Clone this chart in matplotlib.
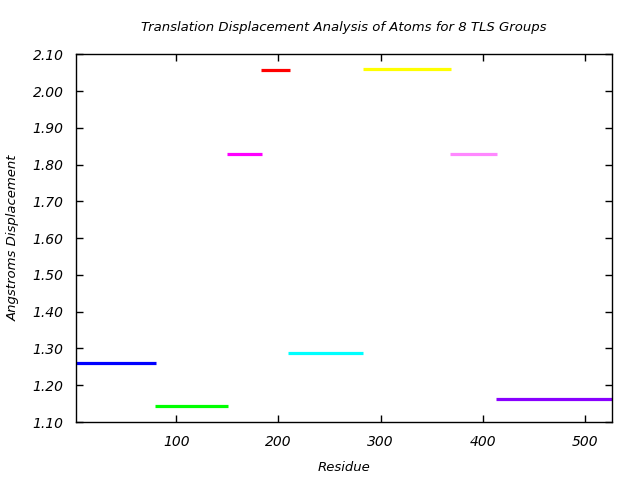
import matplotlib as mpl
mpl.use('Agg')
import matplotlib.pyplot as plt

# TLS groups: residue ranges and translation displacement
starts = [1, 79, 150, 183, 209, 283, 368, 413]
ends = [80, 151, 184, 211, 283, 369, 414, 527]
values = [1.26, 1.143, 1.828, 2.057, 1.287, 2.059, 1.828, 1.162]
colors = ['#0000ff', '#00ff00', '#ff00ff', '#ff0000', '#00ffff', '#ffff00', '#ff88ff', '#8800ff']

y_ticks = [1.10 + 0.10 * i for i in range(11)]
x_ticks = [100, 200, 300, 400, 500]

plt.rcParams['font.family'] = ['DejaVu Sans']
fig = plt.figure(figsize=(6.4, 4.8), dpi=100)
ax = fig.add_axes([0.1188, 0.1208, 0.8372, 0.7661])

for s, e, v, c in zip(starts, ends, values, colors):
    ax.plot([s, e], [v, v], color=c, linewidth=2.3, solid_capstyle='butt')

ax.set_xlim(2, 526)
ax.set_ylim(1.10, 2.10)
ax.set_xticks(x_ticks)
ax.set_yticks(y_ticks)
ax.set_yticklabels(['%.2f' % t for t in y_ticks])
ax.tick_params(direction='in', top=True, right=True, length=5, width=1, labelsize=10, pad=9)
for lbl in ax.get_xticklabels() + ax.get_yticklabels():
    lbl.set_fontstyle('italic')
for sp in ax.spines.values():
    sp.set_linewidth(1)

ax.set_title('Translation Displacement Analysis of Atoms for 8 TLS Groups',
             fontsize=9.5, fontstyle='italic', pad=17)
ax.set_xlabel('Residue', fontsize=9.5, fontstyle='italic', labelpad=9)
ax.set_ylabel('Angstroms Displacement', fontsize=9.5, fontstyle='italic', labelpad=9)

plt.savefig('out.png')
plt.close()
